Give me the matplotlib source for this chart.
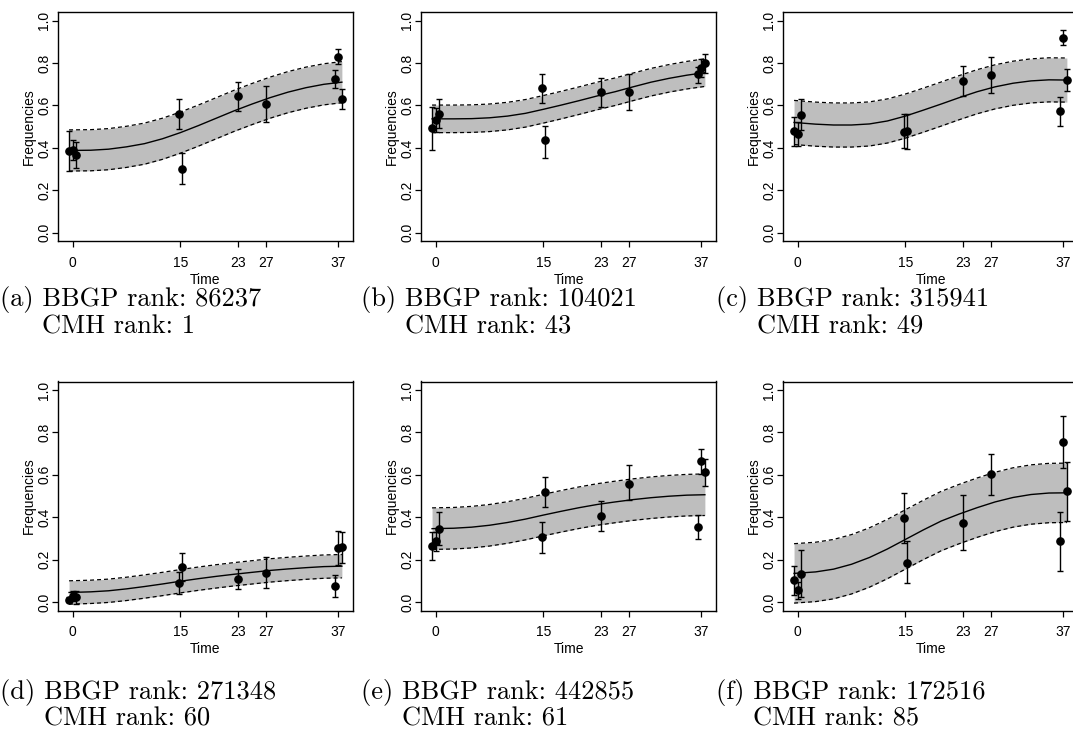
import matplotlib
matplotlib.use('Agg')
import matplotlib.pyplot as plt

plt.rcParams['font.family'] = ['Liberation Sans', 'DejaVu Sans']

# ---------------- data ----------------
TICKS_X = [0, 15, 23, 27, 37]
TICKS_Y = [0.0, 0.2, 0.4, 0.6, 0.8, 1.0]

# sample times of the points (3 replicates at 0 and 37, 2 at 15) and their plotted jitter
POINT_T = [0, 0, 0, 15, 15, 23, 27, 37, 37, 37]
JITTER = [-0.5, 0, 0.5, -0.25, 0.25, 0, 0, -0.5, 0, 0.5]

# times at which the fitted mean curve was read
CURVE_T = [-0.5, 2.5, 5, 7.5, 10, 12.5, 15, 17.5, 20, 22.5, 25, 27.5, 30, 32.5, 35, 37.5]

PANEL_TAGS = ["(a)", "(b)", "(c)", "(d)", "(e)", "(f)"]
BBGP_RANK = ["86237", "104021", "315941", "271348", "442855", "172516"]
CMH_RANK = ["1", "43", "49", "60", "61", "85"]

a_y = [0.386, 0.39, 0.367, 0.559, 0.301, 0.644, 0.608, 0.724, 0.827, 0.63]
a_lo = [0.29, 0.344, 0.305, 0.488, 0.231, 0.575, 0.521, 0.681, 0.794, 0.582]
a_hi = [0.48, 0.435, 0.43, 0.631, 0.375, 0.713, 0.694, 0.768, 0.867, 0.678]
a_mean = [0.388, 0.389, 0.394, 0.405, 0.42, 0.443, 0.472, 0.505, 0.54, 0.575,
          0.607, 0.637, 0.663, 0.684, 0.70, 0.71]
a_band = 0.097

b_y = [0.493, 0.53, 0.56, 0.681, 0.438, 0.662, 0.662, 0.749, 0.776, 0.80]
b_lo = [0.391, 0.475, 0.493, 0.614, 0.353, 0.592, 0.579, 0.705, 0.733, 0.755]
b_hi = [0.595, 0.59, 0.631, 0.749, 0.505, 0.731, 0.747, 0.783, 0.82, 0.843]
b_mean = [0.537, 0.537, 0.538, 0.542, 0.55, 0.563, 0.582, 0.602, 0.623, 0.645,
          0.665, 0.688, 0.71, 0.728, 0.743, 0.755]
b_band = 0.065

c_y = [0.482, 0.466, 0.556, 0.477, 0.48, 0.716, 0.744, 0.575, 0.92, 0.721]
c_lo = [0.411, 0.41, 0.485, 0.399, 0.396, 0.645, 0.661, 0.504, 0.885, 0.669]
c_hi = [0.548, 0.52, 0.631, 0.56, 0.559, 0.788, 0.83, 0.642, 0.956, 0.771]
c_mean = [0.52, 0.512, 0.508, 0.508, 0.513, 0.527, 0.55, 0.578, 0.607, 0.637,
          0.665, 0.688, 0.705, 0.716, 0.721, 0.72]
c_band = 0.104

d_y = [0.011, 0.027, 0.024, 0.09, 0.165, 0.107, 0.137, 0.076, 0.255, 0.258]
d_lo = [0.0, 0.005, -0.008, 0.039, 0.098, 0.06, 0.066, 0.025, 0.173, 0.186]
d_hi = [0.025, 0.05, 0.05, 0.142, 0.233, 0.157, 0.213, 0.126, 0.335, 0.33]
d_mean = [0.045, 0.048, 0.053, 0.062, 0.073, 0.085, 0.098, 0.11, 0.121, 0.131,
          0.14, 0.149, 0.156, 0.162, 0.167, 0.169]
d_band = 0.055

e_y = [0.263, 0.287, 0.343, 0.306, 0.517, 0.405, 0.556, 0.353, 0.665, 0.611]
e_lo = [0.197, 0.24, 0.268, 0.233, 0.447, 0.335, 0.48, 0.296, 0.606, 0.548]
e_hi = [0.331, 0.33, 0.425, 0.378, 0.591, 0.477, 0.646, 0.409, 0.72, 0.674]
e_mean = [0.346, 0.348, 0.353, 0.362, 0.375, 0.391, 0.41, 0.428, 0.445, 0.46,
          0.472, 0.483, 0.492, 0.499, 0.504, 0.506]
e_band = 0.098

f_y = [0.102, 0.055, 0.134, 0.394, 0.186, 0.375, 0.602, 0.287, 0.753, 0.523]
f_lo = [0.035, 0.016, 0.024, 0.28, 0.091, 0.247, 0.504, 0.146, 0.633, 0.381]
f_hi = [0.168, 0.094, 0.247, 0.512, 0.287, 0.504, 0.699, 0.425, 0.879, 0.661]
f_mean = [0.135, 0.142, 0.155, 0.178, 0.21, 0.25, 0.295, 0.34, 0.382, 0.415,
          0.445, 0.472, 0.493, 0.507, 0.514, 0.515]
f_band = 0.14

PANELS = [
    (a_y, a_lo, a_hi, a_mean, a_band),
    (b_y, b_lo, b_hi, b_mean, b_band),
    (c_y, c_lo, c_hi, c_mean, c_band),
    (d_y, d_lo, d_hi, d_mean, d_band),
    (e_y, e_lo, e_hi, e_mean, e_band),
    (f_y, f_lo, f_hi, f_mean, f_band),
]

# ---------------- layout (pixels) ----------------
W, H = 1073, 732
fig = plt.figure(figsize=(W / 100, H / 100), dpi=100)
COL_X = [58, 421, 783]
ROW_Y = [12.2, 381.5]
AX_W, AX_H = 295, 229
CAP_X = [0, 361, 716]
CAP_BASE = [(306, 334), (699, 726)]

FS = 10
CAP_FS = 19

renderer = fig.canvas.get_renderer()

for i, (yv, lo, hi, mean, band) in enumerate(PANELS):
    r, c = divmod(i, 3)
    x0, y0 = COL_X[c], ROW_Y[r]
    ax = fig.add_axes([x0 / W, 1 - (y0 + AX_H) / H, AX_W / W, AX_H / H])
    xs = [t + j for t, j in zip(POINT_T, JITTER)]
    upper = [m + band for m in mean]
    lower = [m - band for m in mean]
    ax.fill_between(CURVE_T, lower, upper, color='#bebebe', linewidth=0, zorder=1)
    ax.plot(CURVE_T, upper, color='black', lw=0.9, ls=(0, (3.2, 2.4)), zorder=2)
    ax.plot(CURVE_T, lower, color='black', lw=0.9, ls=(0, (3.2, 2.4)), zorder=2)
    ax.plot(CURVE_T, mean, color='black', lw=1.0, zorder=3)
    yerr = [[v - l for v, l in zip(yv, lo)], [h - v for v, h in zip(yv, hi)]]
    ax.errorbar(xs, yv, yerr=yerr, fmt='none', ecolor='black', elinewidth=1.0,
                capsize=2.2, capthick=1.0, zorder=4)
    ax.plot(xs, yv, 'o', color='black', markersize=5.2, zorder=5)

    ax.set_xlim(-2.04, 39.05)
    ax.set_ylim(-0.04, 1.04)
    ax.set_xticks(TICKS_X)
    ax.set_xticklabels([str(t) for t in TICKS_X])
    ax.set_yticks(TICKS_Y)
    ax.set_yticklabels([f"{t:.1f}" for t in TICKS_Y])
    ax.tick_params(direction='out', length=4.5, width=0.9, labelsize=FS, colors='black')
    ax.tick_params(axis='x', pad=6)
    ax.tick_params(axis='y', pad=0.5, labelrotation=90)
    for lab in ax.get_yticklabels():
        lab.set_va('center')
    for sp in ax.spines.values():
        sp.set_linewidth(1.0)
    ax.set_xlabel('Time', fontsize=FS, labelpad=2)
    ax.set_ylabel('Frequencies', fontsize=FS)
    ax.yaxis.set_label_coords(-22 / AX_W, 0.5)

    cx = CAP_X[c]
    b1, b2 = CAP_BASE[r]
    fig.text(cx / W, 1 - b1 / H, f"{PANEL_TAGS[i]} BBGP rank: {BBGP_RANK[i]}",
             family='cmr10', fontsize=CAP_FS, va='baseline', ha='left')
    tag = fig.text(0, 0, f"{PANEL_TAGS[i]} ", family='cmr10', fontsize=CAP_FS, alpha=0)
    ext = tag.get_window_extent(renderer)
    tag.remove()
    fig.text((cx + ext.width) / W, 1 - b2 / H, f"CMH rank: {CMH_RANK[i]}",
             family='cmr10', fontsize=CAP_FS, va='baseline', ha='left')

fig.savefig('out.png', dpi=100)
